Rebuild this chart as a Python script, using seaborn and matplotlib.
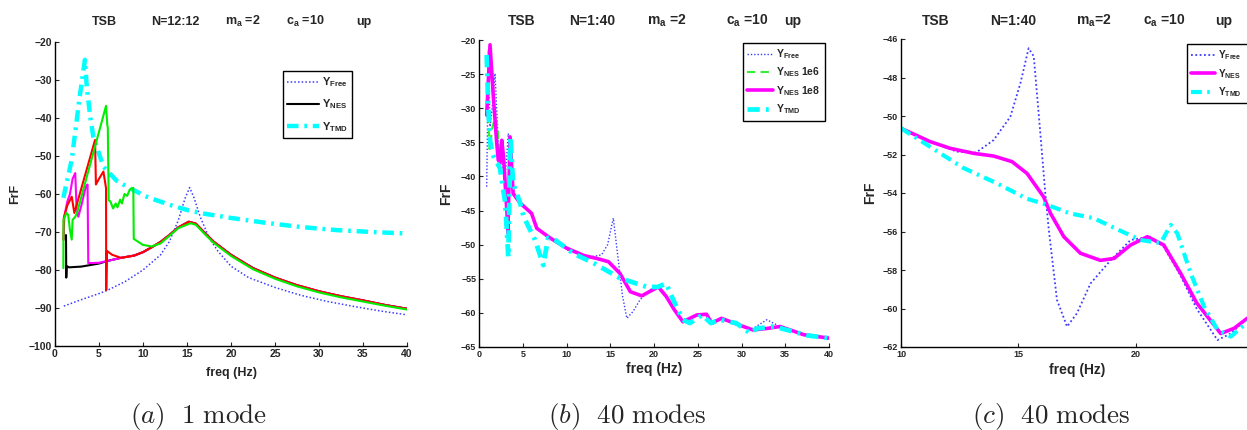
import numpy as np
import pandas as pd
import matplotlib
matplotlib.use("Agg")
import matplotlib.pyplot as plt
from matplotlib.patches import Rectangle
import seaborn as sns

# ---------------- data ----------------
# Panel (a): 1 mode
fa_free = [1, 3, 5, 6, 8, 10, 12, 13, 14, 14.8, 15.3, 15.8, 16.5, 17.5, 18.5, 20, 22, 25, 28, 31, 34, 37, 40]
ya_free = [-89.5, -87.8, -86.2, -85.3, -83, -80, -76, -72.5, -67, -61, -58.3, -61, -66, -71.5, -75, -79, -82, -84.6,
           -86.7, -88.3, -89.6, -90.8, -91.8]

fa_nes = [1.25, 1.28, 1.32, 1.6, 3, 5.0, 6.0, 7.5, 9, 10, 11, 12, 13, 14, 15.2, 16, 17, 18, 20, 22.5, 25, 27.5, 30,
          32.5, 35, 37.5, 40]
ya_nes = [-70.8, -82, -79, -79.3, -79.1, -78.3, -77.6, -76.8, -76.2, -75.3, -74, -72.6, -70.8, -68.8, -67.3, -67.8,
          -70.2, -72.5, -76, -79.5, -82, -84, -85.6, -86.9, -88, -89.2, -90.2]

fa_tmd = [0.95, 1.9, 2.8, 3.4, 3.6, 4.0, 4.35, 5.5, 7, 8.5, 10.5, 13.1, 15, 17, 20, 24, 28, 32, 36, 40]
ya_tmd = [-61, -51, -34.5, -24.7, -31.4, -39.7, -44.9, -52.8, -56.5, -58.5, -60.8, -62.9, -64.2, -65.2, -66.3, -67.6,
          -68.7, -69.5, -70, -70.4]

fa_mag = [1.0, 1.05, 1.4, 1.7, 2.0, 2.3, 2.45, 2.65, 3.0, 3.5, 3.7, 3.78, 5.0, 6.0, 7.5, 9, 10, 11, 12, 13, 14, 15.2,
          16, 17, 18, 20, 22.5, 25, 27.5, 30, 32.5, 35, 37.5, 40]
ya_mag = [-72, -66, -62, -60, -56, -54.5, -63.5, -66, -63, -58.1, -57.5, -78.2, -78.1, -77.6, -76.8, -76.2, -75.3, -74,
          -72.6, -70.8, -68.8, -67.3, -67.8, -70.2, -72.5, -76, -79.5, -82, -84, -85.6, -86.9, -88, -89.2, -90.2]

fa_red = [0.95, 1.0, 1.4, 1.9, 2.2, 4.55, 4.65, 5.0, 5.5, 5.7, 5.8, 5.82, 5.9, 6.5, 7.5, 9, 10, 11, 12, 13, 14, 15.2,
          16, 17, 18, 20, 22.5, 25, 27.5, 30, 32.5, 35, 37.5, 40]
ya_red = [-72.1, -66.3, -63, -60.7, -65, -45.8, -57.5, -56, -54.1, -57, -58.5, -85.3, -75, -76, -76.8, -76.2, -75.3,
          -74, -72.6, -70.8, -68.8, -67.3, -67.8, -70.2, -72.5, -76, -79.5, -82, -84, -85.6, -86.9, -88, -89.2, -90.2]

fa_grn = [0.95, 0.97, 1.3, 1.5, 1.7, 1.9, 2.0, 2.3, 2.5, 5.8, 5.95, 6.0, 6.1, 6.3, 6.6, 6.9, 7.1, 7.4, 7.6, 7.9, 8.2,
          8.5, 8.9, 8.95, 10, 11, 12, 13, 14, 15.4, 16, 17, 18, 20, 22.5, 25, 27.5, 30, 32.5, 35, 37.5, 40]
ya_grn = [-79.5, -66.8, -65, -65.5, -69.5, -72, -66.8, -66, -65, -36.8, -42, -42.5, -61.6, -62, -63.8, -62.5, -63.5,
          -61.5, -62.5, -60, -60.5, -58.8, -58.4, -71.8, -73.4, -73.8, -73, -71, -69, -67.7, -68.1, -70.5, -72.8,
          -76.3, -79.8, -82.3, -84.3, -85.9, -87.2, -88.3, -89.4, -90.4]

# Panel (b): 40 modes
fb_free = [0.88, 1.07, 1.26, 1.5, 1.83, 2.2, 2.6, 3.0, 3.35, 3.6, 4.0, 4.7, 6.0, 6.6, 8.1, 10.4, 12.7, 14.0, 14.7,
           15.35, 15.8, 16.4, 16.9, 17.6, 18.4, 19.2, 20.0, 20.5, 21.4, 23.3, 24.9, 26.0, 26.6, 27.7, 29.8, 31.3,
           32.9, 34.4, 37.1, 40]
yb_free = [-41.5, -21.5, -32.7, -30, -24.9, -35.1, -38, -40, -33.7, -38, -42.5, -43.9, -45.4, -47.6, -49, -51, -51.8,
           -51.5, -50, -46.1, -51, -57.5, -60.8, -59.8, -58.1, -57, -56.2, -56.2, -57.6, -61.3, -60.3, -60.2, -61.5,
           -60.8, -61.8, -62.3, -61, -62, -63.2, -63.7]

fb_nes6 = [0.88, 1.07, 1.2, 1.5, 1.83, 2.1, 2.4, 2.6, 2.8, 3.2, 3.3, 3.55, 3.9, 4.7, 6.0, 6.6, 8.1, 10.0, 12.0, 13.4,
           14.8, 16.1, 17.3, 18.6, 19.6, 20.5, 21.4, 22.3, 23.3, 24.1, 24.9, 26.0, 26.6, 27.7, 29.8, 31.3, 32.8, 34.4,
           35.8, 37.1, 40]
yb_nes6 = [-31, -31.5, -36, -33, -31.3, -32.5, -38, -34.7, -37.1, -45.4, -48.3, -34.2, -42.5, -43.9, -45.4, -47.6,
           -49, -50.5, -51.6, -52, -52.5, -54.2, -56.9, -57.5, -56.8, -56.2, -57.6, -59.5, -61.3, -60.8, -60.3,
           -60.2, -61.5, -60.8, -61.8, -62.5, -62.3, -62, -62.6, -63.2, -63.7]

fb_nes8 = [0.88, 1.26, 1.64, 2.0, 2.2, 2.4, 2.6, 2.8, 3.2, 3.3, 3.55, 3.9, 4.7, 6.0, 6.6, 8.1, 10.0, 12.0, 13.4, 14.8,
           16.1, 17.3, 18.6, 19.6, 20.5, 21.4, 22.3, 23.3, 24.1, 24.9, 26.0, 26.6, 27.7, 29.8, 31.3, 32.8, 34.4, 35.8,
           37.1, 40]
yb_nes8 = [-31, -20.7, -28.3, -34.7, -37.6, -38, -34.7, -37.1, -45.4, -48.3, -34.2, -42.5, -43.9, -45.4, -47.6, -49,
           -50.5, -51.6, -52, -52.5, -54.2, -56.9, -57.5, -56.8, -56.2, -57.6, -59.5, -61.3, -60.8, -60.3, -60.2,
           -61.5, -60.8, -61.8, -62.5, -62.3, -62, -62.6, -63.2, -63.7]

fb_tmd = [0.88, 1.06, 1.26, 1.5, 1.83, 2.1, 2.4, 3.0, 3.35, 3.6, 3.9, 4.7, 5.1, 6.4, 7.35, 7.9, 8.8, 10.8, 13.1, 16.1,
          19.2, 20.4, 21.4, 22.2, 23.3, 24.1, 25.5, 26.5, 27.5, 29.4, 31.0, 31.7, 33.7, 35.5, 37.5, 40]
yb_tmd = [-22.2, -29.8, -34.7, -36.5, -37.6, -38.1, -38.8, -43.9, -51.8, -34.2, -41, -43.9, -45.9, -49.3, -53, -49,
          -49.4, -51.3, -52.7, -54.9, -56.2, -56.2, -55.7, -58.1, -61, -61.5, -60.3, -61.5, -61, -61.5, -63, -62.3,
          -62, -62.6, -63.3, -63.7]

# Panel (c): 40 modes, zoom
fc_free = [10, 11.24, 12.38, 13.2, 13.95, 14.66, 15.09, 15.44, 15.66, 15.94, 16.15, 16.3, 16.65, 17.08, 17.5, 18.08,
           18.93, 19.79, 20.64, 21.2, 21.92, 22.6, 23.49, 24.06, 24.77]
yc_free = [-50.64, -51.33, -51.85, -51.9, -51.25, -50.04, -48.3, -46.48, -46.9, -50.9, -54.0, -55.9, -59.56, -60.94,
           -60.25, -58.7, -57.5, -56.44, -56.27, -56.8, -58.3, -60.0, -61.64, -61.3, -60.5]

fc_nes = [10, 11.24, 12.1, 13.1, 13.95, 14.73, 15.37, 16.08, 16.37, 16.94, 17.65, 18.5, 19.08, 19.79, 20.5, 21.2,
          21.92, 22.6, 23.63, 24.2, 24.77]
yc_nes = [-50.64, -51.33, -51.68, -51.94, -52.08, -52.37, -52.98, -54.2, -55.05, -56.27, -57.13, -57.5, -57.4, -56.7,
          -56.27, -56.7, -58.17, -59.7, -61.3, -61.03, -60.5]

fc_tmd = [10, 11.24, 12.66, 14.09, 15.37, 16.2, 17.2, 18.2, 19.07, 20.2, 21.07, 21.5, 21.78, 22.35, 22.92, 23.49,
          24.06, 24.77]
yc_tmd = [-50.64, -51.6, -52.7, -53.5, -54.3, -54.6, -55.06, -55.3, -55.8, -56.44, -56.6, -55.66, -56.1, -58.17,
          -59.9, -61.1, -61.46, -60.7]

# ---------------- style ----------------
sns.set_style("ticks")
plt.rcParams["font.family"] = ["Liberation Sans", "DejaVu Sans"]
plt.rcParams["font.weight"] = "bold"
plt.rcParams["mathtext.fontset"] = "custom"
plt.rcParams["mathtext.rm"] = "Liberation Sans:bold"
plt.rcParams["mathtext.it"] = "Liberation Sans:bold"
plt.rcParams["mathtext.bf"] = "Liberation Sans:bold"
plt.rcParams["mathtext.sf"] = "Liberation Sans:bold"
plt.rcParams["axes.unicode_minus"] = True

W, H = 1247, 430
fig = plt.figure(figsize=(W / 100, H / 100), dpi=100)


def add_axes(l, t, r, b):
    return fig.add_axes([l / W, 1 - b / H, (r - l) / W, (b - t) / H])


axa = add_axes(55, 42, 407, 346)
axb = add_axes(479, 40, 829, 347)
axc = add_axes(901, 39, 1247, 347)

BLUE = "#3c3cff"
CYAN = "#00ffff"
MAG = "#ff00ff"
DOT = (0, (1.0, 1.4))
DASHDOT = (0, (2.6, 1.3, 0.6, 1.3))


def line(ax, x, y, **kw):
    df = pd.DataFrame({"f": x, "v": y})
    sns.lineplot(data=df, x="f", y="v", ax=ax, sort=False, estimator=None, **kw)
    return ax.get_lines()[-1]


# panel a
h_free = line(axa, fa_free, ya_free, color=BLUE, lw=1.1, linestyle=DOT)
h_nes = line(axa, fa_nes, ya_nes, color="black", lw=1.5)
h_tmd = line(axa, fa_tmd, ya_tmd, color=CYAN, lw=3.2, linestyle=DASHDOT)
line(axa, fa_mag, ya_mag, color=MAG, lw=1.5)
line(axa, fa_red, ya_red, color="red", lw=1.5)
line(axa, fa_grn, ya_grn, color="#00ee00", lw=1.5)

# panel b
hb_free = line(axb, fb_free, yb_free, color=BLUE, lw=1.0, linestyle=DOT)
hb_6 = line(axb, fb_nes6, yb_nes6, color="#33ee33", lw=1.5, linestyle=(0, (4, 2.5)))
hb_8 = line(axb, fb_nes8, yb_nes8, color=MAG, lw=2.6)
hb_tmd = line(axb, fb_tmd, yb_tmd, color=CYAN, lw=3.4, linestyle=DASHDOT)

# panel c
hc_free = line(axc, fc_free, yc_free, color=BLUE, lw=1.3, linestyle=DOT)
hc_nes = line(axc, fc_nes, yc_nes, color=MAG, lw=2.6)
hc_tmd = line(axc, fc_tmd, yc_tmd, color=CYAN, lw=3.0, linestyle=DASHDOT)

# axes formatting
for ax, xl, yl, xt, yt, fs, lfs in [
    (axa, (0, 40), (-100, -20), np.arange(0, 41, 5), np.arange(-100, -19, 10), 7.5, 9),
    (axb, (0, 40), (-65, -20), np.arange(0, 41, 5), np.arange(-65, -19, 5), 6.5, 10),
    (axc, (10, 24.75), (-62, -46), [10, 15, 20], np.arange(-62, -45, 2), 6.5, 10),
]:
    ax.set_xlim(*xl)
    ax.set_ylim(*yl)
    ax.set_xticks(xt)
    ax.set_yticks(yt)
    ax.tick_params(direction="in", length=3, width=0.8, labelsize=fs, pad=2)
    for lab in ax.get_xticklabels() + ax.get_yticklabels():
        lab.set_fontweight("bold")
    sns.despine(ax=ax)
    for s in ("left", "bottom"):
        ax.spines[s].set_linewidth(1.0)
        ax.spines[s].set_color("black")
    ax.set_xlabel("freq (Hz)", fontsize=lfs, fontweight="bold")
    ax.set_ylabel("FrF", fontsize=lfs, fontweight="bold")
    ax.set_facecolor("white")

axa.xaxis.set_label_coords(0.5, -0.069)
axb.xaxis.set_label_coords(0.5, -0.049)
axc.xaxis.set_label_coords((1077 - 901) / 346, -0.052)
axa.yaxis.set_label_coords(-0.097, 0.5)
axb.yaxis.set_label_coords(-0.074, 0.5)
axc.yaxis.set_label_coords(-0.069, 0.5)


def leg(ax, handles, labels, x, y, fs, spacing, hl, frame=True):
    lg = ax.legend(handles, labels, loc="upper left", bbox_to_anchor=(x / W, 1 - y / H),
                   bbox_transform=fig.transFigure, borderaxespad=0, fontsize=fs, frameon=frame,
                   fancybox=False, framealpha=1, edgecolor="black", handlelength=hl,
                   labelspacing=spacing, handletextpad=0.3, borderpad=0.4)
    lg.get_frame().set_linewidth(1.0)
    return lg


leg(axa, [h_free, h_nes, h_tmd], [r"Y$_{\rm Free}$", r"Y$_{\rm NES}$", r"Y$_{\rm TMD}$"], 283, 71, 8, 0.75, 2.8)
leg(axb, [hb_free, hb_6, hb_8, hb_tmd],
    [r"Y$_{\rm Free}$", r"Y$_{\rm NES}$ 1e6", r"Y$_{\rm NES}$ 1e8", r"Y$_{\rm TMD}$"], 743, 43, 7.5, 0.45, 2.5)

# panel (c) legend: its box runs past the right edge of the figure in the reference
frame_c = Rectangle((1187 / W, 1 - 103 / H), 80 / W, 59 / H, transform=fig.transFigure,
                    facecolor="white", edgecolor="black", linewidth=1.0, zorder=4.5, clip_on=False)
axc.add_artist(frame_c)
lgc = leg(axc, [hc_free, hc_nes, hc_tmd], [r"Y$_{\rm Free}$", r"Y$_{\rm NES}$", r"Y$_{\rm TMD}$"],
          1187, 44, 7.2, 0.5, 2.4, frame=False)
lgc.set_zorder(6)

# titles
titles = [
    (9, [("TSB", 104), ("N=12:12", 175), (r"m$_{\rm a}$ =2", 243), (r"c$_{\rm a}$ =10", 305), ("up", 364)]),
    (10, [("TSB", 522), ("N=1:40", 592), (r"m$_{\rm a}$ =2", 667), (r"c$_{\rm a}$ =10", 747), ("up", 793)]),
    (10, [("TSB", 936), ("N=1:40", 1013), (r"m$_{\rm a}$=2", 1094), (r"c$_{\rm a}$ =10", 1164), ("up", 1224)]),
]
for fs, parts in titles:
    for txt, xp in parts:
        fig.text(xp / W, 1 - 25 / H, txt, ha="center", va="baseline", fontsize=fs, fontweight="bold")

# captions
for txt, xp in [(r"$(a)\ \ \mathrm{1\ mode}$", 199), (r"$(b)\ \ \mathrm{40\ modes}$", 627),
                (r"$(c)\ \ \mathrm{40\ modes}$", 1051)]:
    fig.text(xp / W, 1 - 416 / H, txt, ha="center", va="center", fontsize=19.5, math_fontfamily="cm",
             fontweight="normal")

fig.savefig("out.png", dpi=100, facecolor="white")
